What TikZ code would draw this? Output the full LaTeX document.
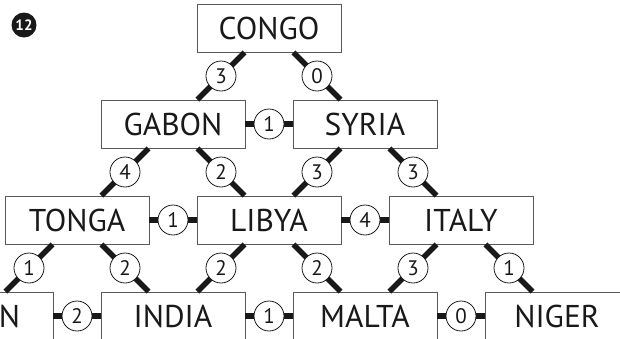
\documentclass[tikz,border=0pt]{standalone}
\usepackage{fontspec}
\setmainfont{PT Sans}

\begin{document}
\begin{tikzpicture}[
  x=1pt,y=-1pt,
  country/.style={draw=black!65,line width=0.8pt,fill=white,minimum width=144pt,minimum height=48pt,inner sep=0pt,text=black!90,font=\fontsize{31.5}{31.5}\selectfont},
  weight/.style={circle,draw=black!90,fill=white,line width=0.8pt,minimum size=30pt,inner sep=0pt,text=black!90,font=\fontsize{21}{21}\selectfont},
  link/.style={line width=5.5pt,draw=black!90},
  badge/.style={circle,fill=black!90,minimum size=25pt,inner sep=0pt,text=white,font=\bfseries\fontsize{15}{15}\selectfont}]

  \useasboundingbox (0,0) rectangle (620,338);
  \clip (0,0) rectangle (620,338);

  \node(badge)[badge] at (24,25) {12};

  \node(congo)[country] at (269,28)  {CONGO};
  \node(gabon)[country] at (173,124) {GABON};
  \node(syria)[country] at (365,124) {SYRIA};
  \node(tonga)[country] at (77,220)  {TONGA};
  \node(libya)[country] at (269,220) {LIBYA};
  \node(italy)[country] at (461,220) {ITALY};
  \node(nbox) [country,text width=78pt,align=right] at (-19,316) {N};
  \node(india)[country] at (173,316) {INDIA};
  \node(malta)[country] at (365,316) {MALTA};
  \node(niger)[country] at (557,316) {NIGER};

  \draw[link] (congo) -- node[weight]{3} (gabon);
  \draw[link] (congo) -- node[weight]{0} (syria);
  \draw[link] (gabon) -- node[weight]{1} (syria);
  \draw[link] (gabon) -- node[weight]{4} (tonga);
  \draw[link] (gabon) -- node[weight]{2} (libya);
  \draw[link] (syria) -- node[weight]{3} (libya);
  \draw[link] (syria) -- node[weight]{3} (italy);
  \draw[link] (tonga) -- node[weight]{1} (libya);
  \draw[link] (libya) -- node[weight]{4} (italy);
  \draw[link] (tonga) -- node[weight]{1} (nbox);
  \draw[link] (tonga) -- node[weight]{2} (india);
  \draw[link] (libya) -- node[weight]{2} (india);
  \draw[link] (libya) -- node[weight]{2} (malta);
  \draw[link] (italy) -- node[weight]{3} (malta);
  \draw[link] (italy) -- node[weight]{1} (niger);
  \draw[link] (nbox)  -- node[weight]{2} (india);
  \draw[link] (india) -- node[weight]{1} (malta);
  \draw[link] (malta) -- node[weight]{0} (niger);

\end{tikzpicture}
\end{document}
